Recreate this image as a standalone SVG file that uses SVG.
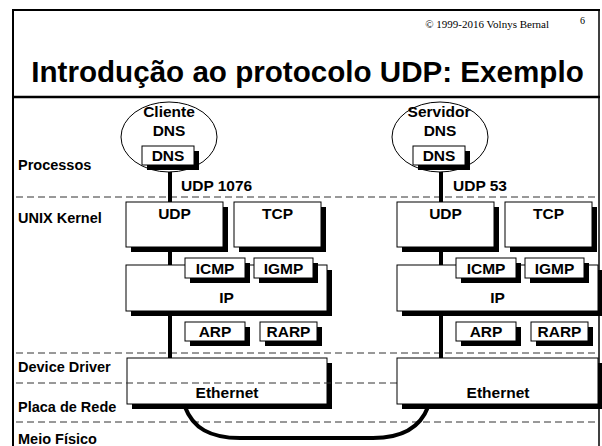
<svg xmlns="http://www.w3.org/2000/svg" width="602" height="446" viewBox="0 0 602 446">
<style>
.lbl{font-family:"Liberation Sans",Arial,Helvetica,sans-serif;font-weight:bold;font-size:14.5px;fill:#000}
.t{font-family:"Liberation Sans",Arial,Helvetica,sans-serif;font-weight:bold;font-size:15.5px;fill:#000}
.c{text-anchor:middle}
.box{fill:#fff;stroke:#000;stroke-width:1}
.sh{fill:#000}
.dash{stroke:#333;stroke-width:1;stroke-dasharray:7 4;fill:none}
.conn{stroke:#000;stroke-width:4;fill:none}
.ell{fill:#fff;stroke:#000;stroke-width:1}
.frame{stroke:#000;fill:none}
</style>
<rect width="602" height="446" fill="#fff"/>

<!-- header -->
<text x="549" y="28" font-family="'Liberation Serif','Times New Roman',serif" font-size="11" text-anchor="end">© 1999-2016 Volnys Bernal</text>
<text x="580" y="24" font-family="'Liberation Serif','Times New Roman',serif" font-size="10">6</text>
<text x="307.5" y="82" font-family="'Liberation Sans',Arial,sans-serif" font-weight="bold" font-size="29.6" text-anchor="middle">Introdução ao protocolo UDP: Exemplo</text>

<!-- layer labels -->
<g id="layers">
<text class="lbl" x="18" y="170">Processos</text>
<text class="lbl" x="18" y="223">UNIX Kernel</text>
<text class="lbl" x="18" y="372">Device Driver</text>
<text class="lbl" x="18" y="412">Placa de Rede</text>
<text class="lbl" x="18" y="444">Meio Físico</text>
<line class="dash" x1="16" y1="197" x2="598" y2="197"/>
<line class="dash" x1="16" y1="353" x2="598" y2="353"/>
<line class="dash" x1="16" y1="422" x2="598" y2="422"/>
</g>

<!-- connectors -->
<g id="connectors">
<line class="conn" x1="170" y1="165" x2="170" y2="359"/>
<line class="conn" x1="441" y1="165" x2="441" y2="359"/>
<path class="conn" d="M185 407 C193 428 210 438 240 438 L373 438 C402 438 420 428 428 407"/>
<text class="t" x="181" y="191">UDP 1076</text>
<text class="t" x="453" y="191">UDP 53</text>
</g>

<!-- left host -->
<g id="cliente">
<ellipse class="ell" cx="169" cy="137" rx="48" ry="35"/>
<text class="t c" x="169" y="117">Cliente</text>
<text class="t c" x="169" y="136">DNS</text>
</g>
<g id="dns-cliente">
<rect class="sh" x="147" y="151" width="52" height="19"/>
<rect class="box" x="142" y="146" width="52" height="19"/>
<text class="t c" x="168" y="161">DNS</text>
</g>
<g id="udp-l">
<rect class="sh" x="131" y="207" width="97" height="45"/>
<rect class="box" x="126" y="202" width="97" height="45"/>
<text class="t c" x="174.5" y="219">UDP</text>
</g>
<g id="tcp-l">
<rect class="sh" x="239" y="207" width="87" height="45"/>
<rect class="box" x="234" y="202" width="87" height="45"/>
<text class="t c" x="277.5" y="219">TCP</text>
</g>
<g id="ip-l">
<rect class="sh" x="131" y="270" width="201" height="46"/>
<rect class="box" x="126" y="265" width="201" height="46"/>
<text class="t c" x="226.5" y="303">IP</text>
</g>
<g id="icmp-l">
<rect class="sh" x="190" y="263" width="60" height="20"/>
<rect class="box" x="185" y="258" width="60" height="20"/>
<text class="t c" x="215" y="274">ICMP</text>
</g>
<g id="igmp-l">
<rect class="sh" x="259" y="263" width="59" height="20"/>
<rect class="box" x="254" y="258" width="59" height="20"/>
<text class="t c" x="283.5" y="274">IGMP</text>
</g>
<g id="arp-l">
<rect class="sh" x="190" y="327" width="60" height="19"/>
<rect class="box" x="185" y="322" width="60" height="19"/>
<text class="t c" x="215" y="337">ARP</text>
</g>
<g id="rarp-l">
<rect class="sh" x="265" y="327" width="57" height="19"/>
<rect class="box" x="260" y="322" width="57" height="19"/>
<text class="t c" x="288.5" y="337">RARP</text>
</g>
<g id="eth-l">
<rect class="sh" x="132" y="363" width="200" height="46"/>
<rect class="box" x="127" y="358" width="200" height="46"/>
<line class="dash" x1="16" y1="383" x2="397" y2="383"/>
<text class="t c" x="227" y="398">Ethernet</text>
</g>

<!-- right host -->
<g id="servidor">
<ellipse class="ell" cx="440" cy="137" rx="48" ry="35"/>
<text class="t c" x="439" y="117">Servidor</text>
<text class="t c" x="440" y="136">DNS</text>
</g>
<g id="dns-servidor">
<rect class="sh" x="418" y="151" width="52" height="19"/>
<rect class="box" x="413" y="146" width="52" height="19"/>
<text class="t c" x="439" y="161">DNS</text>
</g>
<g id="udp-r">
<rect class="sh" x="402" y="207" width="97" height="45"/>
<rect class="box" x="397" y="202" width="97" height="45"/>
<text class="t c" x="445.5" y="219">UDP</text>
</g>
<g id="tcp-r">
<rect class="sh" x="510" y="207" width="87" height="45"/>
<rect class="box" x="505" y="202" width="87" height="45"/>
<text class="t c" x="548.5" y="219">TCP</text>
</g>
<g id="ip-r">
<rect class="sh" x="402" y="270" width="201" height="46"/>
<rect class="box" x="397" y="265" width="201" height="46"/>
<text class="t c" x="497.5" y="303">IP</text>
</g>
<g id="icmp-r">
<rect class="sh" x="461" y="263" width="60" height="20"/>
<rect class="box" x="456" y="258" width="60" height="20"/>
<text class="t c" x="486" y="274">ICMP</text>
</g>
<g id="igmp-r">
<rect class="sh" x="530" y="263" width="59" height="20"/>
<rect class="box" x="525" y="258" width="59" height="20"/>
<text class="t c" x="554.5" y="274">IGMP</text>
</g>
<g id="arp-r">
<rect class="sh" x="461" y="327" width="60" height="19"/>
<rect class="box" x="456" y="322" width="60" height="19"/>
<text class="t c" x="486" y="337">ARP</text>
</g>
<g id="rarp-r">
<rect class="sh" x="536" y="327" width="57" height="19"/>
<rect class="box" x="531" y="322" width="57" height="19"/>
<text class="t c" x="559.5" y="337">RARP</text>
</g>
<g id="eth-r">
<rect class="sh" x="402" y="363" width="201" height="46"/>
<rect class="box" x="397" y="358" width="201" height="46"/>
<text class="t c" x="498" y="398">Ethernet</text>
</g>

<!-- frame -->
<g id="frame">
<line class="frame" x1="13" y1="9" x2="13" y2="446" stroke-width="2"/>
<line class="frame" x1="12" y1="10" x2="600" y2="10" stroke-width="2"/>
<line class="frame" x1="599" y1="9" x2="599" y2="446" stroke-width="1.5"/>
<line class="frame" x1="12" y1="97" x2="600" y2="97" stroke-width="2.5"/>
</g>
</svg>
